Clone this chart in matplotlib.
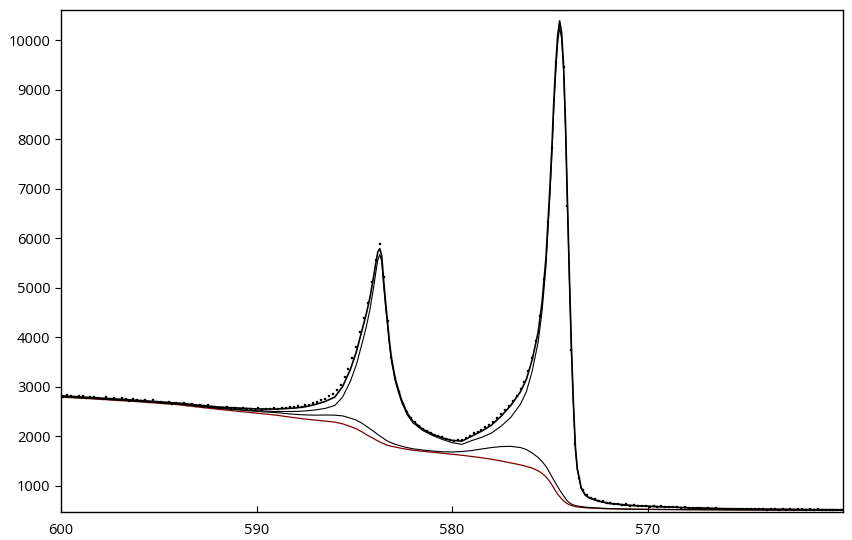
import numpy as np
import matplotlib
matplotlib.use("Agg")
import matplotlib.pyplot as plt

plt.rcParams["font.family"] = ["Open Sans", "DejaVu Sans"]

# fitted curves, binding energy grid (eV)
fit_be = [600, 598, 596, 594, 592, 590, 589, 588, 587.5, 587, 586.5, 586, 585.6, 585.2,
          584.9, 584.6, 584.4, 584.2, 584.0, 583.9, 583.8, 583.7, 583.6, 583.5, 583.4,
          583.3, 583.2, 583.1, 582.9, 582.6, 582.3, 582.0, 581.5, 581, 580.5, 580, 579.5,
          579, 578.5, 578, 577.5, 577, 576.5, 576.2, 575.9, 575.6, 575.4, 575.2, 575.0,
          574.9, 574.8, 574.7, 574.6, 574.5, 574.4, 574.3, 574.2, 574.1, 574.0, 573.9,
          573.8, 573.7, 573.6, 573.4, 573.2, 573.0, 572.5, 572, 571, 570, 568, 566, 564,
          562, 560]

background = [2790, 2745, 2695, 2635, 2545, 2465, 2425, 2370, 2345, 2325, 2305, 2285, 2250,
              2195, 2150, 2085, 2035, 1990, 1950, 1925, 1905, 1885, 1865, 1850, 1830, 1815,
              1805, 1795, 1780, 1755, 1735, 1715, 1695, 1675, 1655, 1635, 1615, 1590, 1565,
              1535, 1500, 1460, 1420, 1390, 1355, 1300, 1250, 1180, 1080, 1020, 955, 890,
              830, 780, 735, 695, 660, 635, 615, 600, 590, 580, 572, 562, 555, 550, 540,
              533, 525, 520, 515, 512, 508, 505, 502]

oxide = [2795, 2752, 2705, 2650, 2570, 2500, 2475, 2440, 2430, 2425, 2428, 2425, 2410, 2365,
         2325, 2260, 2205, 2150, 2095, 2065, 2035, 2005, 1980, 1955, 1925, 1900, 1882, 1865,
         1835, 1800, 1770, 1745, 1720, 1700, 1685, 1680, 1690, 1710, 1740, 1770, 1790, 1795,
         1770, 1730, 1660, 1570, 1490, 1390, 1255, 1185, 1115, 1045, 980, 915, 855, 795,
         740, 690, 655, 630, 612, 600, 590, 578, 568, 560, 548, 538, 528, 522, 516, 513,
         509, 506, 503]

metal = [2810, 2763, 2712, 2653, 2565, 2515, 2498, 2500, 2510, 2530, 2560, 2620, 2790, 3110,
         3440, 3880, 4190, 4560, 5040, 5310, 5560, 5670, 5535, 5045, 4605, 4215, 3823, 3510,
         3095, 2705, 2435, 2270, 2115, 2015, 1935, 1870, 1835, 1910, 1975, 2060, 2200, 2380,
         2650, 2900, 3320, 3900, 4520, 5430, 6850, 7650, 8600, 9350, 9950, 10255, 10030,
         9400, 8220, 6645, 5160, 3770, 2678, 1780, 1332, 944, 807, 750, 682, 640, 602, 583,
         554, 534, 524, 517, 512]

envelope = [2815, 2770, 2722, 2668, 2590, 2550, 2548, 2570, 2595, 2640, 2700, 2790, 3000,
            3350, 3700, 4150, 4450, 4800, 5250, 5500, 5720, 5790, 5650, 5150, 4700, 4300,
            3900, 3580, 3150, 2750, 2470, 2300, 2140, 2040, 1965, 1915, 1900, 2000, 2100,
            2220, 2400, 2620, 2900, 3150, 3550, 4100, 4700, 5600, 7000, 7800, 8750, 9500,
            10100, 10390, 10150, 9500, 8300, 6700, 5200, 3800, 2700, 1800, 1350, 960, 820,
            760, 690, 645, 605, 585, 555, 535, 525, 518, 513]

# measured counts, 0.2 eV steps from 600.1 eV down to 559.9 eV
data_start, data_step = 600.1, 0.2
counts = [2822, 2798, 2830, 2811, 2786, 2815, 2803, 2772, 2799, 2790,
          2781, 2755, 2790, 2748, 2770, 2739, 2762, 2751, 2720, 2745,
          2733, 2702, 2725, 2690, 2741, 2684, 2699, 2668, 2694, 2660,
          2672, 2641, 2680, 2629, 2655, 2612, 2639, 2598, 2625, 2588,
          2596, 2570, 2561, 2590, 2553, 2575, 2541, 2566, 2548, 2559,
          2537, 2562, 2530, 2556, 2541, 2570, 2548, 2575, 2560, 2584,
          2590, 2605, 2598, 2632, 2640, 2668, 2690, 2725, 2760, 2805,
          2850, 2925, 3040, 3190, 3360, 3580, 3810, 4100, 4390, 4700,
          5110, 5560, 5880, 5210, 4330, 3600, 3170, 2890, 2660, 2490,
          2370, 2280, 2210, 2155, 2095, 2070, 2030, 2010, 1975, 1950,
          1930, 1905, 1922, 1915, 1960, 2010, 2055, 2080, 2135, 2180,
          2230, 2290, 2375, 2440, 2530, 2610, 2720, 2820, 2950, 3100,
          3310, 3580, 3930, 4420, 5180, 6320, 7820, 9560, 10600, 9450,
          6650, 3750, 1850, 1160, 905, 810, 760, 730, 700, 685,
          660, 645, 628, 630, 612, 620, 598, 605, 590, 596,
          592, 578, 588, 570, 581, 566, 575, 560, 571, 555,
          560, 548, 556, 541, 550, 538, 547, 533, 542, 530,
          538, 526, 534, 520, 537, 527, 531, 519, 533, 524,
          528, 517, 526, 521, 515, 529, 518, 523, 512, 520,
          521, 510, 519, 514, 524, 508, 516, 512, 518, 507,
          515, 511]
data_be = data_start - data_step * np.arange(len(counts))

fig = plt.figure(figsize=(8.53, 5.40), dpi=100)
ax = fig.add_axes([0.0715, 0.052, 0.917, 0.9295])

ax.plot(fit_be, background, color="#800000", lw=0.9, zorder=2)
ax.plot(fit_be, oxide, color="black", lw=0.8, zorder=3)
ax.plot(fit_be, metal, color="black", lw=0.8, zorder=3)
ax.plot(fit_be, envelope, color="black", lw=1.2, zorder=4)
ax.plot(data_be, counts, ls="none", marker="s", ms=2.0, mfc="black", mec="black",
        mew=0.2, zorder=5)

ax.set_xlim(600, 560)
ax.set_ylim(470, 10610)
ax.set_xticks([600, 590, 580, 570])
ax.set_yticks(range(1000, 10001, 1000))
ax.tick_params(axis="x", direction="in", length=4, width=0.8, pad=8, labelsize=10.5)
ax.tick_params(axis="y", direction="out", length=4, width=0.8, pad=3.5, labelsize=10.5)
for s in ax.spines.values():
    s.set_linewidth(1.0)

fig.savefig("out.png", dpi=100)
